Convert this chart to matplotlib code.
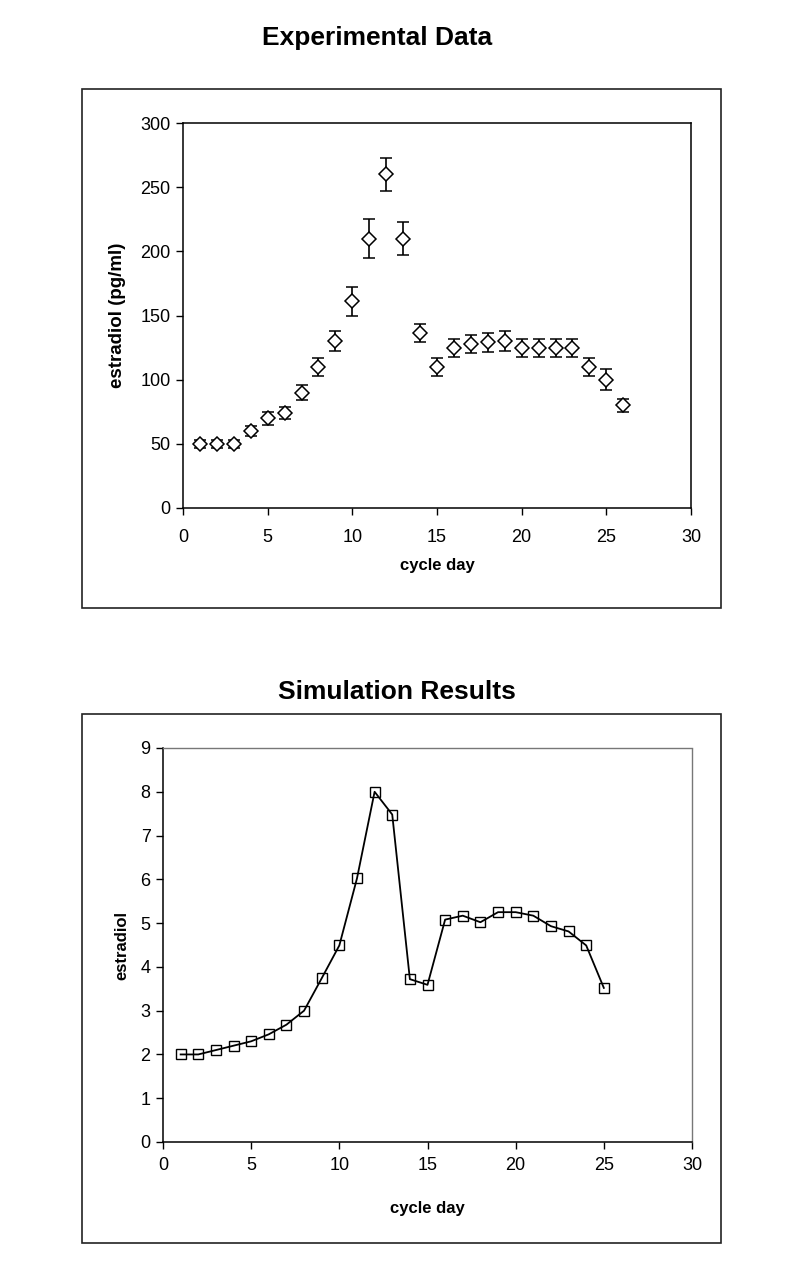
import matplotlib
matplotlib.use("Agg")
import matplotlib.pyplot as plt
from matplotlib.patches import Rectangle

plt.rcParams['font.family'] = ['Liberation Sans', 'DejaVu Sans']

# Experimental data
exp_days = list(range(1, 27))
exp_estradiol = [50, 50, 50, 60, 70, 74, 90, 110, 130, 161, 210, 260, 210, 136, 110,
                 125, 127.5, 129, 130, 125, 125, 125, 125, 110, 100, 80]
exp_err = [3, 3, 3, 4, 5, 5, 5.5, 7, 8, 11.5, 15, 13, 13, 7, 7,
           7, 7, 7.5, 8, 7, 7, 7, 7, 7, 8, 5]

# Simulation results
sim_days = list(range(1, 26))
sim_estradiol = [2.0, 2.0, 2.1, 2.2, 2.3, 2.46, 2.68, 3.0, 3.74, 4.49, 6.02, 8.0, 7.48,
                 3.72, 3.59, 5.08, 5.17, 5.02, 5.25, 5.25, 5.17, 4.93, 4.81, 4.49, 3.52]

x_ticks = [0, 5, 10, 15, 20, 25, 30]
y1_ticks = [0, 50, 100, 150, 200, 250, 300]
y2_ticks = list(range(0, 10))

W, H = 800, 1262
fig = plt.figure(figsize=(W / 100, H / 100), dpi=100)

def fx(px):
    return px / W

def fy(py):
    return 1 - py / H

# Outer frames
for (x0, y0, x1, y1) in [(82, 89, 721, 608), (82, 714, 721, 1243)]:
    fig.patches.append(Rectangle((fx(x0), fy(y1)), fx(x1) - fx(x0), fy(y0) - fy(y1),
                                 transform=fig.transFigure, fill=False,
                                 edgecolor='#222222', linewidth=1.2))

fig.text(fx(377), fy(38), 'Experimental Data', ha='center', va='center',
         fontsize=19, fontweight='bold')
fig.text(fx(397), fy(692), 'Simulation Results', ha='center', va='center',
         fontsize=19, fontweight='bold')

# Top axes
ax1 = fig.add_axes([fx(183), fy(508), fx(691) - fx(183), fy(123) - fy(508)])
ax1.errorbar(exp_days, exp_estradiol, yerr=exp_err, fmt='D', markersize=7,
             markerfacecolor='white', markeredgecolor='black', markeredgewidth=1.1,
             ecolor='black', elinewidth=1.2, capsize=4.5, capthick=1.2)
ax1.set_xlim(0, 30)
ax1.set_ylim(0, 300)
ax1.set_xticks(x_ticks)
ax1.set_yticks(y1_ticks)
ax1.set_xlabel('cycle day', fontsize=12, fontweight='bold', labelpad=9)
ax1.set_ylabel('estradiol (pg/ml)', fontsize=13.5, fontweight='bold', labelpad=10)
for s in ax1.spines.values():
    s.set_linewidth(1.1)
    s.set_color('black')
ax1.tick_params(direction='out', length=5, width=1, labelsize=13)
ax1.tick_params(axis='x', pad=10)
ax1.tick_params(axis='y', pad=4)

# Bottom axes
ax2 = fig.add_axes([fx(163), fy(1142), fx(692) - fx(163), fy(748) - fy(1142)])
ax2.plot(sim_days, sim_estradiol, '-', color='black', linewidth=1.3,
         marker='s', markersize=7, markerfacecolor='none',
         markeredgecolor='black', markeredgewidth=1.0)
ax2.set_xlim(0, 30)
ax2.set_ylim(0, 9)
ax2.set_xticks(x_ticks)
ax2.set_yticks(y2_ticks)
ax2.set_xlabel('cycle day', fontsize=12, fontweight='bold', labelpad=19)
ax2.set_ylabel('estradiol', fontsize=12, fontweight='bold', labelpad=8)
for k in ['left', 'bottom']:
    ax2.spines[k].set_linewidth(1.1)
    ax2.spines[k].set_color('black')
for k in ['top', 'right']:
    ax2.spines[k].set_linewidth(1.0)
    ax2.spines[k].set_color('#777777')
    ax2.spines[k].set_linestyle((0, (1, 1)))
ax2.tick_params(direction='out', length=5, width=1, labelsize=13)
ax2.tick_params(axis='x', pad=6)
ax2.tick_params(axis='y', pad=4)

fig.savefig('out.png', dpi=100)
